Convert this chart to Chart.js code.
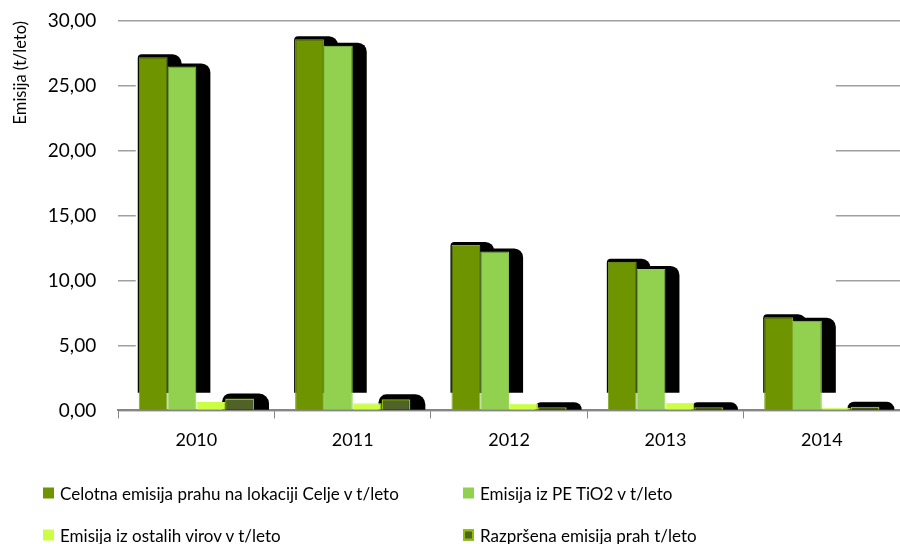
<!DOCTYPE html>
<html>
<head>
<meta charset="utf-8">
<script src="https://cdn.jsdelivr.net/npm/chart.js@4"></script>
<style>
  html, body { margin: 0; padding: 0; background: #fff; }
  #wrap { position: relative; width: 900px; height: 544px; }
  #legend { position: absolute; left: 0; top: 0; width: 900px; height: 544px;
            pointer-events: none; font-family: Lato, sans-serif; font-size: 17px; color: #000; }
  .item { position: absolute; display: flex; align-items: center; white-space: nowrap;
          transform: translateY(-50%); }
  .box { width: 11px; height: 11px; margin-right: 6px; box-sizing: border-box; }
</style>
</head>
<body>
<div id="wrap">
  <canvas id="chart" width="900" height="544"></canvas>
  <div id="legend"></div>
</div>
<script>
const years = ['2010', '2011', '2012', '2013', '2014'];
const seriesNames = [
  'Celotna emisija prahu na lokaciji Celje v t/leto',
  'Emisija iz PE TiO2 v t/leto',
  'Emisija iz ostalih virov v t/leto',
  'Razpršena emisija prah t/leto'
];
const celotna   = [27.2, 28.6, 12.75, 11.45, 7.17];
const tio2      = [26.5, 28.1, 12.25, 10.9, 6.9];
const ostali    = [0.65, 0.55, 0.52, 0.58, 0.2];
const razprsena = [0.92, 0.85, 0.25, 0.24, 0.28];
const yMin = 0, yMax = 30, yStep = 5;
const yTitle = 'Emisija (t/leto)';

const fills   = ['#6E9400', '#92D050', '#CCFF44', '#4F6228'];
const borders = ['#84A82A', '#92D050', '#CCFF44', '#8CC000'];
const hasShadow = [true, true, false, true];

// excel leaves a white patch over the inner grid lines and draws hard black shadows
const maskAndShadow = {
  id: 'maskAndShadow',
  beforeDatasetsDraw(chart) {
    const ctx = chart.ctx, a = chart.chartArea;
    const first = chart.getDatasetMeta(0).data[0];
    const last = chart.getDatasetMeta(1).data[years.length - 1];
    const x0 = first.x - first.width / 2 - 3;
    const x1 = last.x + last.width / 2 + 14;
    ctx.save();
    ctx.fillStyle = '#fff';
    ctx.fillRect(x0, a.top + 3, x1 - x0, a.bottom - a.top - 6);
    ctx.fillStyle = '#000';
    chart.data.datasets.forEach((ds, i) => {
      if (!hasShadow[i]) return;
      chart.getDatasetMeta(i).data.forEach(bar => {
        const h = bar.base - bar.y;
        const big = h > 30;
        const left = bar.x - bar.width / 2 - (big ? 1 : 3);
        const right = bar.x + bar.width / 2 + (big ? 14 : 15);
        const top = bar.y - (big ? 3 : 5);
        const bottom = big ? bar.base - 17 : bar.base;
        ctx.beginPath();
        ctx.roundRect(left, top, right - left, bottom - top, big ? [4, 9, 0, 0] : [8, 10, 0, 0]);
        ctx.fill();
      });
    });
    ctx.restore();
  }
};

const values = [celotna, tio2, ostali, razprsena];
const chart = new Chart(document.getElementById('chart'), {
  type: 'bar',
  data: {
    labels: years,
    datasets: seriesNames.map((name, i) => ({
      label: name,
      data: values[i],
      backgroundColor: fills[i],
      borderColor: borders[i],
      borderWidth: i == 3 ? 1.5 : 1,
      barPercentage: 1,
      categoryPercentage: 0.737
    }))
  },
  options: {
    responsive: false,
    animation: false,
    layout: { padding: { top: 21, right: -8, bottom: 82, left: 8 } },
    plugins: { legend: { display: false }, tooltip: { enabled: false } },
    scales: {
      x: {
        grid: { display: true, drawOnChartArea: false, drawTicks: true, tickLength: 8, color: '#868686', offset: true },
        border: { display: true, color: '#868686', width: 2 },
        ticks: { color: '#000', font: { family: 'Lato', size: 18 }, padding: 11 }
      },
      y: {
        min: yMin, max: yMax,
        // invisible tick marks make the gap between labels and plot
        grid: { color: '#a0a0a0', lineWidth: 1.5, drawTicks: true, tickLength: 20, tickColor: 'rgba(0,0,0,0)' },
        border: { display: false },
        ticks: {
          stepSize: yStep, color: '#000', padding: 2,
          font: { family: 'Lato', size: 19 },
          callback: v => v.toFixed(2).replace('.', ',')
        },
        title: {
          display: true, text: yTitle, align: 'end', color: '#000',
          font: { family: 'Lato', size: 16.5 }, padding: { top: 3, bottom: 15 }
        }
      }
    }
  },
  plugins: [maskAndShadow]
});

// legend laid out in two columns like the original
const slots = [[43, 493], [463, 493], [43, 535], [463, 535]];
const legend = document.getElementById('legend');
chart.data.datasets.forEach((ds, i) => {
  const it = document.createElement('div');
  it.className = 'item';
  it.style.left = slots[i][0] + 'px';
  it.style.top = slots[i][1] + 'px';
  const b = document.createElement('span');
  b.className = 'box';
  b.style.background = ds.backgroundColor;
  if (i == 3) b.style.border = '2px solid ' + ds.borderColor;
  it.appendChild(b);
  it.appendChild(document.createTextNode(ds.label));
  legend.appendChild(it);
});
</script>
</body>
</html>
